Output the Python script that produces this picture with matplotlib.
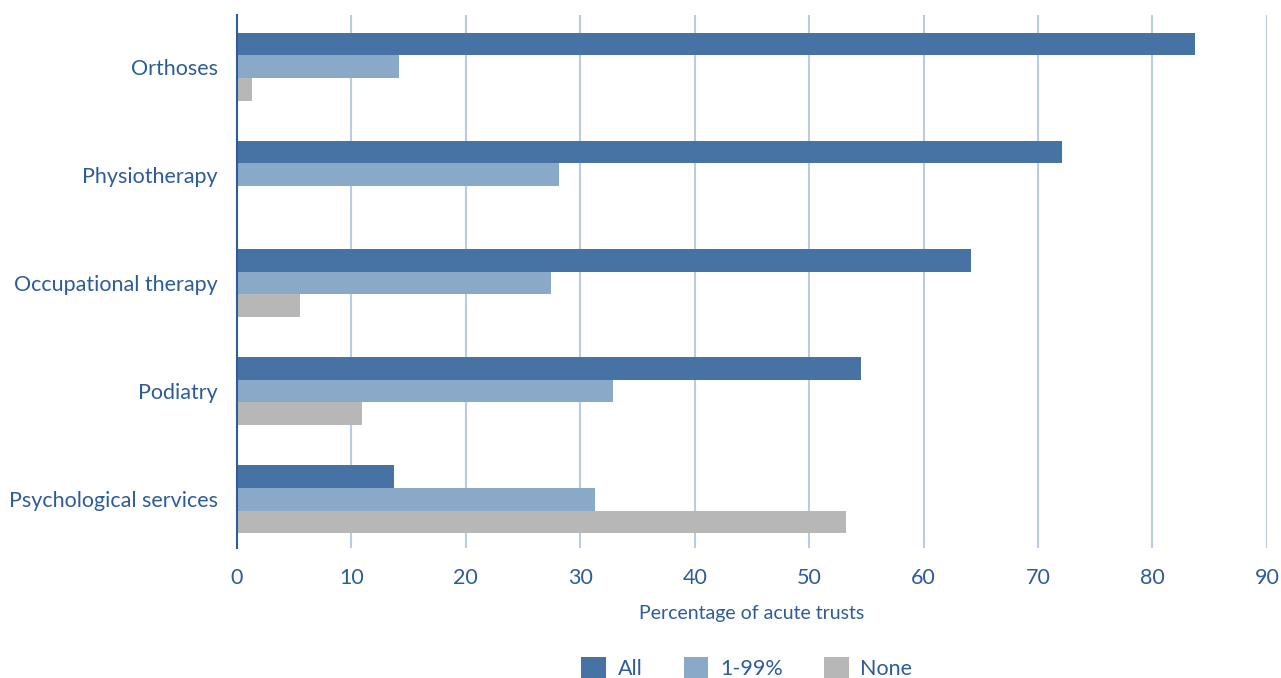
import matplotlib
matplotlib.use("Agg")
import matplotlib.pyplot as plt
import numpy as np

categories = ["Orthoses", "Physiotherapy", "Occupational therapy", "Podiatry", "Psychological services"]
all_vals = [83.7, 72.1, 64.1, 54.5, 13.7]
part_vals = [14.2, 28.1, 27.4, 32.9, 31.3]
none_vals = [1.3, 0.0, 5.5, 10.9, 53.2]
series_names = ["All", "1-99%", "None"]
xticks = [0, 10, 20, 30, 40, 50, 60, 70, 80, 90]

colors = ["#4672a4", "#8aa8c8", "#b7b7b7"]
text_color = "#2d5c98"

plt.rcParams['font.family'] = ['Lato', 'DejaVu Sans']

fig = plt.figure(figsize=(12.81, 6.78), dpi=100)
ax = fig.add_axes([0.185, 0.192, 0.804, 0.786])

y = np.arange(len(categories))
h = 0.21
for i, (vals, name, c) in enumerate(zip([all_vals, part_vals, none_vals], series_names, colors)):
    ax.barh(y + (i - 1) * h, vals, height=h, color=c, label=name, zorder=3)

ax.set_xlim(0, 90)
ax.set_ylim(4.45, -0.478)
ax.set_yticks(y)
ax.set_yticklabels(categories, fontsize=15.5, color=text_color)
ax.set_xticks(xticks)
ax.set_xticklabels([str(t) for t in xticks], fontsize=15.5, color=text_color)
ax.tick_params(axis='y', length=0, pad=14)
ax.tick_params(axis='x', length=0, pad=14.5)

for t in xticks[1:]:
    ax.axvline(t, color="#b9cce0", lw=1.5, zorder=1)

for s in ["top", "right", "bottom"]:
    ax.spines[s].set_visible(False)
ax.spines["left"].set_color("#2d5c98")
ax.spines["left"].set_linewidth(1.5)
ax.spines["left"].set_zorder(4)

ax.set_xlabel("Percentage of acute trusts", fontsize=14, color=text_color, labelpad=12)

leg = fig.legend(loc="center", bbox_to_anchor=(0.583, 0.015), ncol=3, frameon=False,
                 fontsize=15.5, handlelength=1.15, handleheight=1.15, columnspacing=1.9, handletextpad=0.55)
for t in leg.get_texts():
    t.set_color(text_color)

fig.savefig("out.png", dpi=100)
